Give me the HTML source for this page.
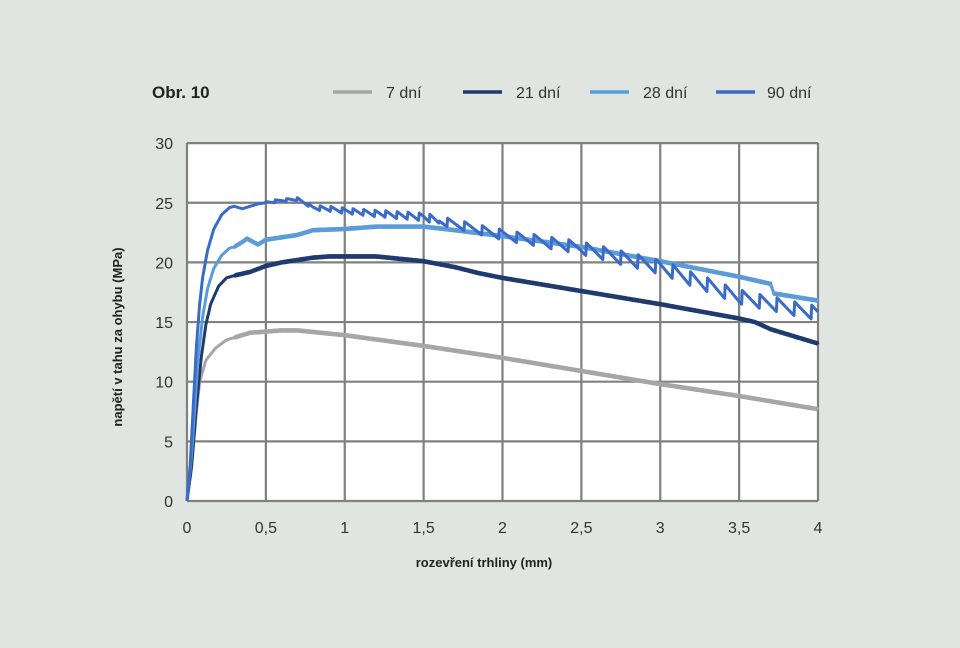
<!DOCTYPE html>
<html><head><meta charset="utf-8"><style>
html,body{margin:0;padding:0;background:#e0e5e1;}
svg{display:block;font-family:"Liberation Sans",sans-serif;}
</style></head><body>
<svg id="s" width="960" height="648" xmlns="http://www.w3.org/2000/svg">
<rect width="960" height="648" fill="#e0e5e1"/>
<rect x="187" y="143" width="631" height="358" fill="#fff"/>
<g id="grid" stroke="#808080" stroke-width="2.2" fill="none"></g>
<g id="curves" fill="none" stroke-width="3" stroke-linejoin="round"></g>
<g font-size="16" fill="#333" text-anchor="end" id="yt"></g>
<g font-size="16" fill="#333" text-anchor="middle" id="xt"></g>
<text x="152" y="98" font-size="17" font-weight="bold" fill="#222">Obr. 10</text>
<g stroke-width="3.5">
<line x1="333" y1="92" x2="372" y2="92" stroke="#a6a6a6"/>
<line x1="463" y1="92" x2="502" y2="92" stroke="#1f3a6e"/>
<line x1="590" y1="92" x2="629" y2="92" stroke="#5a9bd8"/>
<line x1="716" y1="92" x2="755" y2="92" stroke="#3a6bc8"/>
</g>
<g font-size="16" fill="#333">
<text x="386" y="98">7 dní</text>
<text x="516" y="98">21 dní</text>
<text x="643" y="98">28 dní</text>
<text x="767" y="98">90 dní</text>
</g>
<text x="484" y="567" font-size="13" font-weight="bold" fill="#222" text-anchor="middle">rozevření trhliny (mm)</text>
<text transform="translate(122,337) rotate(-90)" font-size="13" font-weight="bold" fill="#222" text-anchor="middle">napětí v tahu za ohybu (MPa)</text>
</svg>
<script>
var NS="http://www.w3.org/2000/svg";
function X(x){return 187+x*157.75;}function Y(y){return 501-y*11.93;}
function el(p,t,a){var e=document.createElementNS(NS,t);for(var k in a)e.setAttribute(k,a[k]);p.appendChild(e);return e;}
var g=document.getElementById("grid");
for(var i=0;i<=8;i++){var x=X(i*0.5);el(g,"line",{x1:x,y1:143,x2:x,y2:501});}
for(var j=0;j<=6;j++){var y=Y(j*5);el(g,"line",{x1:187,y1:y,x2:818,y2:y});}
var yt=document.getElementById("yt");
for(var j=0;j<=6;j++){el(yt,"text",{x:173,y:Y(j*5)+6}).textContent=j*5;}
var xt=document.getElementById("xt");
var lab=["0","0,5","1","1,5","2","2,5","3","3,5","4"];
for(var i=0;i<=8;i++){el(xt,"text",{x:X(i*0.5),y:533}).textContent=lab[i];}
function interp(d,x){for(var i=1;i<d.length;i++){if(x<=d[i][0]){var a=d[i-1],b=d[i];return a[1]+(b[1]-a[1])*(x-a[0])/(b[0]-a[0]);}}return d[d.length-1][1];}
function draw(d,col,saw){var s="";for(var k=0;k<=1000;k++){var x=k*0.004;var y=interp(d,x);
 if(saw){y+=saw(x);} else if(x>0.3){y+=(k%2?0.07:-0.07);}
 s+=(s?"L":"M")+X(x).toFixed(1)+","+Y(y).toFixed(1);}
 el(document.getElementById("curves"),"path",{d:s,stroke:col});}
draw([[0,0],[0.03,3],[0.06,7.5],[0.08,10],[0.12,11.8],[0.18,12.8],[0.25,13.5],[0.4,14.1],[0.6,14.3],[0.7,14.3],[1,13.9],[1.5,13],[2,12],[2.5,10.9],[3,9.8],[3.5,8.8],[4,7.7]],"#a6a6a6");
draw([[0,0],[0.03,3],[0.06,8],[0.09,12],[0.12,14.8],[0.15,16.5],[0.2,18],[0.25,18.7],[0.3,18.9],[0.4,19.2],[0.5,19.7],[0.6,20],[0.8,20.4],[0.9,20.5],[1.2,20.5],[1.5,20.1],[1.7,19.6],[1.85,19.1],[2,18.7],[2.5,17.6],[3,16.5],[3.5,15.3],[3.6,15],[3.7,14.4],[4,13.2]],"#1f3a6e");
draw([[0,0],[0.03,4],[0.05,8],[0.07,12],[0.1,15.5],[0.13,17.8],[0.17,19.5],[0.22,20.6],[0.27,21.2],[0.3,21.3],[0.35,21.7],[0.38,22],[0.45,21.5],[0.5,21.9],[0.7,22.3],[0.8,22.7],[1,22.8],[1.2,23],[1.5,23],[1.7,22.7],[2,22.2],[2.5,21.3],[3,20.1],[3.5,18.8],[3.7,18.2],[3.72,17.4],[4,16.8]],"#5a9bd8");
draw([[0,0],[0.02,3],[0.04,8],[0.06,13],[0.08,16.5],[0.1,18.8],[0.13,21],[0.17,22.8],[0.22,24],[0.27,24.6],[0.3,24.7],[0.35,24.5],[0.45,24.9],[0.6,25.2],[0.7,25.3],[0.8,24.6],[0.9,24.5],[1.1,24.2],[1.5,23.8],[2,22.3],[2.5,21.2],[3,19.6],[3.5,17.1],[4,15.7]],"#3a6bc8",
 function(x){if(x<0.5)return 0;var amp=x<0.8?0.25:Math.min(1.2,0.4+(x-0.8)*0.4);var p=x<1.6?0.07:0.11;var ph=(x/p)-Math.floor(x/p);return amp*(0.5-ph);});
</script>
</body></html>
